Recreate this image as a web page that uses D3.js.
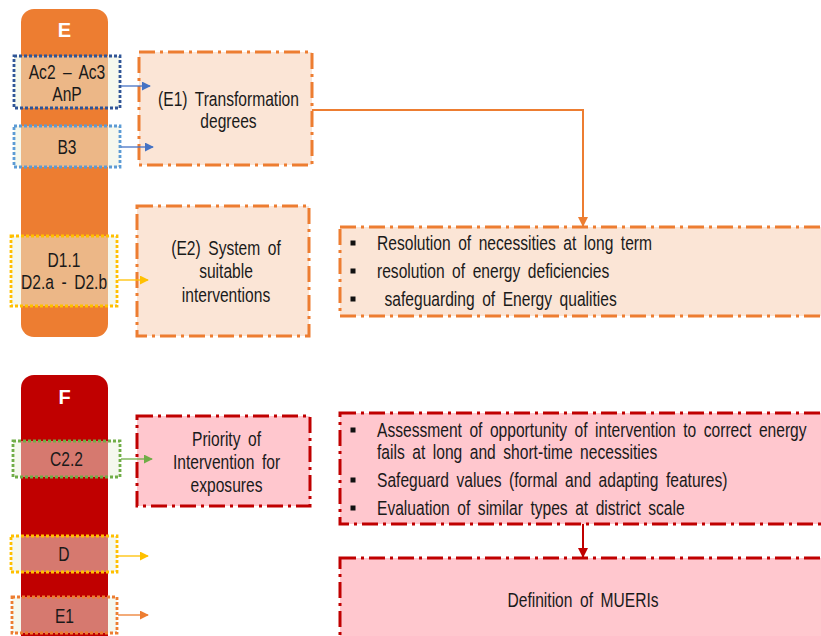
<!DOCTYPE html>
<html><head><meta charset="utf-8">
<script src="https://cdn.jsdelivr.net/npm/d3@7"></script>
<style>
html,body{margin:0;padding:0;background:#fff;overflow:hidden}
svg text{font-family:"Liberation Sans",Arial,sans-serif;fill:#1a1a1a}
</style></head>
<body><svg id="c" width="821" height="636"></svg>
<script>
// ---- content (text data) ----
const sectionLabels = ["E", "F"];
const eTags = [["Ac2 – Ac3", "AnP"], ["B3"], ["D1.1", "D2.a - D2.b"]];
const fTags = [["C2.2"], ["D"], ["E1"]];
const eBoxes = [["(E1) Transformation", "degrees"], ["(E2) System of", "suitable", "interventions"]];
const fBoxes = [["Priority of", "Intervention for", "exposures"]];
const eBullets = [["Resolution of necessities at long term"], ["resolution of energy deficiencies"], [" safeguarding of Energy qualities"]];
const fBullets = [["Assessment of opportunity of intervention to correct energy", "fails at long and short-time necessities"],
                  ["Safeguard values (formal and adapting features)"],
                  ["Evaluation of similar types at district scale"]];
const fResult = ["Definition of MUERIs"];

// ---- layout & style (kept separate from content) ----
const colors = {
  orange: "#ED7D31", red: "#C00000", peach: "#FBE5D6", pink: "#FFC7CE",
  darkBlue: "#2F5597", lightBlue: "#5B9BD5", arrowBlue: "#4472C4",
  yellow: "#FFC000", green: "#70AD47"
};
const columns = [
  {x: 21, y: 9, w: 87, h: 328, fill: colors.orange, labelY: 30},
  {x: 21, y: 375, w: 87, h: 290, fill: colors.red, labelY: 397}
];
const eTagLayout = [
  {x: 14, y: 56, w: 106, h: 52, stroke: colors.darkBlue, arrow: colors.arrowBlue, ay: 86, ax2: 150, lines: [72, 94]},
  {x: 14, y: 126, w: 106, h: 41, stroke: colors.lightBlue, arrow: colors.arrowBlue, ay: 147, ax2: 153, lines: [147]},
  {x: 11, y: 236, w: 106, h: 70, stroke: colors.yellow, arrow: colors.yellow, ay: 280, ax2: 148, lines: [260, 282]}
];
const fTagLayout = [
  {x: 13, y: 441, w: 107, h: 36, stroke: colors.green, arrow: colors.green, ay: 459, ax2: 152, lines: [459]},
  {x: 11, y: 536, w: 106, h: 36, stroke: colors.yellow, arrow: colors.yellow, ay: 556, ax2: 148, lines: [554]},
  {x: 12, y: 597, w: 105, h: 36, stroke: colors.orange, arrow: colors.orange, ay: 615, ax2: 148, lines: [616]}
];
const eBoxLayout = [
  {x: 139, y: 52, w: 173, h: 113, lines: [99, 121]},
  {x: 137, y: 206, w: 172, h: 130, lines: [248, 271, 295]}
];
const fBoxLayout = [
  {x: 137, y: 416, w: 173, h: 90, lines: [439, 462, 485]}
];
const eBulletBox = {x: 340, y: 227, w: 500, h: 89, lines: [[243], [271], [299]]};
const fBulletBox = {x: 340, y: 413, w: 500, h: 111, lines: [[430, 452], [480], [508]]};
const fResultBox = {x: 340, y: 558, w: 500, h: 100, lines: [600], cx: 583};
const bulletX = 353, textX = 377;
const FS = 19.5, SX = 0.8, WS = 4;

const svg = d3.select("#c");
const defs = svg.append("defs");
function marker(id, color, size) {
  defs.append("marker").attr("id", id).attr("viewBox", "0 0 10 10")
    .attr("refX", 9).attr("refY", 5).attr("markerWidth", size).attr("markerHeight", size)
    .attr("markerUnits", "userSpaceOnUse").attr("orient", "auto")
    .append("path").attr("d", "M0,0 L10,5 L0,10 z").attr("fill", color);
}
marker("mBlue", colors.arrowBlue, 9);
marker("mYellow", colors.yellow, 9);
marker("mGreen", colors.green, 9);
marker("mOrange", colors.orange, 9);
marker("mOrangeBig", colors.orange, 10);
marker("mRedBig", colors.red, 10);
const markerFor = c => c === colors.arrowBlue ? "mBlue" : c === colors.yellow ? "mYellow" : c === colors.green ? "mGreen" : "mOrange";

const dashDot = "16,5,3,5";

// narrow text: regular face compressed horizontally
function textLines(g, lines, ys, x, anchor) {
  g.selectAll(null).data(lines).join("text")
    .attr("transform", (d, i) => `translate(${x},${ys[i]}) scale(${SX},1)`)
    .attr("dy", "0.35em")
    .attr("text-anchor", anchor).attr("font-size", FS)
    .style("word-spacing", WS + "px")
    .style("white-space", "pre")
    .text(d => d);
}

// columns
svg.selectAll("rect.col").data(columns).join("rect").attr("class", "col")
  .attr("x", d => d.x).attr("y", d => d.y).attr("width", d => d.w).attr("height", d => d.h)
  .attr("rx", 13).attr("fill", d => d.fill);
svg.selectAll("text.lab").data(sectionLabels).join("text").attr("class", "lab")
  .attr("x", (d, i) => columns[i].x + columns[i].w / 2).attr("y", (d, i) => columns[i].labelY)
  .attr("dy", "0.35em").attr("text-anchor", "middle").attr("font-size", 20).attr("font-weight", "bold")
  .style("fill", "#fff").text(d => d);

// boxes
function drawBox(B, fill, stroke) {
  svg.append("rect").attr("x", B.x).attr("y", B.y).attr("width", B.w).attr("height", B.h)
    .attr("fill", fill).attr("stroke", stroke).attr("stroke-width", 3).attr("stroke-dasharray", dashDot);
}
function drawCenterBoxes(texts, layout, fill, stroke) {
  texts.forEach((t, i) => {
    const L = layout[i];
    drawBox(L, fill, stroke);
    textLines(svg.append("g"), t, L.lines, L.x + L.w / 2 + 3, "middle");
  });
}
function drawBullets(items, B, fill, stroke) {
  drawBox(B, fill, stroke);
  const g = svg.append("g");
  items.forEach((lines, i) => {
    const ys = B.lines[i];
    g.append("rect").attr("x", bulletX - 2.5).attr("y", ys[0] - 2.5).attr("width", 5).attr("height", 5).attr("fill", "#111");
    textLines(g, lines, ys, textX, "start");
  });
}

// tags (drawn after boxes so arrowheads sit on top)
function drawTags(tags, layout) {
  tags.forEach((t, i) => {
    const L = layout[i];
    const g = svg.append("g");
    g.append("rect").attr("x", L.x).attr("y", L.y).attr("width", L.w).attr("height", L.h)
      .attr("fill", "rgba(235,241,222,0.5)").attr("stroke", L.stroke).attr("stroke-width", 2.8)
      .attr("stroke-dasharray", "3,2");
    textLines(g, t, L.lines, L.x + L.w / 2, "middle");
    g.append("line").attr("x1", L.x + L.w + 1).attr("x2", L.ax2).attr("y1", L.ay).attr("y2", L.ay)
      .attr("stroke", L.arrow).attr("stroke-width", 1.3).attr("marker-end", `url(#${markerFor(L.arrow)})`);
  });
}

drawCenterBoxes(eBoxes, eBoxLayout, colors.peach, colors.orange);
drawCenterBoxes(fBoxes, fBoxLayout, colors.pink, colors.red);
drawBullets(eBullets, eBulletBox, colors.peach, colors.orange);
drawBullets(fBullets, fBulletBox, colors.pink, colors.red);
drawBox(fResultBox, colors.pink, colors.red);
textLines(svg.append("g"), fResult, fResultBox.lines, fResultBox.cx, "middle");

// connectors
svg.append("path").attr("d", `M${eBoxLayout[0].x + eBoxLayout[0].w},110 H583 V${eBulletBox.y - 1}`)
  .attr("fill", "none").attr("stroke", colors.orange).attr("stroke-width", 2).attr("marker-end", "url(#mOrangeBig)");
svg.append("path").attr("d", `M583,${fBulletBox.y + fBulletBox.h} V${fResultBox.y - 1}`)
  .attr("fill", "none").attr("stroke", colors.red).attr("stroke-width", 2).attr("marker-end", "url(#mRedBig)");

drawTags(eTags, eTagLayout);
drawTags(fTags, fTagLayout);
</script></body></html>
